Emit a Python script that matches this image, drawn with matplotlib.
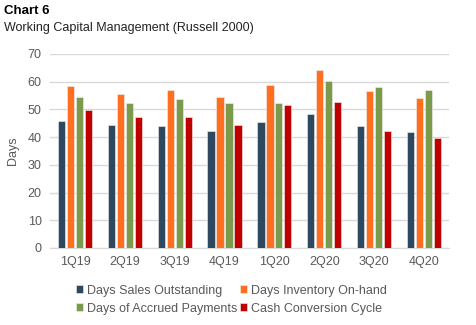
import numpy as np
import matplotlib.pyplot as plt

quarters = ['1Q19', '2Q19', '3Q19', '4Q19', '1Q20', '2Q20', '3Q20', '4Q20']
dso = [45.9, 44.5, 44.1, 42.3, 45.6, 48.4, 44.1, 42.0]
dio = [58.5, 55.7, 57.1, 54.6, 58.9, 64.3, 56.8, 54.2]
dap = [54.6, 52.4, 53.8, 52.4, 52.4, 60.3, 58.2, 57.1]
ccc = [49.9, 47.3, 47.3, 44.5, 51.7, 52.8, 42.3, 39.5]

series = [
    ('Days Sales Outstanding', dso, '#2E4860'),
    ('Days Inventory On-hand', dio, '#FF6F1F'),
    ('Days of Accrued Payments', dap, '#7B9A4B'),
    ('Cash Conversion Cycle', ccc, '#C00000'),
]

plt.rcParams['font.family'] = ['Liberation Sans', 'DejaVu Sans']
gray = '#595959'

fig = plt.figure(figsize=(4.77, 3.25), dpi=100)
ax = fig.add_axes([0.105, 0.237, 0.836, 0.597])

x = np.arange(len(quarters))
w = 0.145
pitch = 0.18
bars = []
for i, (name, vals, col) in enumerate(series):
    b = ax.bar(x + (i - 1.5) * pitch, vals, width=w, color=col, label=name,
               edgecolor='#f0f0f0', linewidth=0.4, zorder=3)
    bars.append(b)

ax.set_xlim(-0.5, len(quarters) - 0.5)
ax.set_ylim(0, 70)
ax.set_yticks(range(0, 71, 10))
ax.set_xticks(x)
ax.set_xticklabels(quarters)
ax.grid(axis='y', color='#d9d9d9', linewidth=1, zorder=0)
for s in ['top', 'right', 'left']:
    ax.spines[s].set_visible(False)
ax.spines['bottom'].set_color('#d9d9d9')
ax.tick_params(axis='both', length=0, labelsize=9, colors=gray, pad=6)
ax.set_ylabel('Days', fontsize=9, color=gray, labelpad=6)

fig.text(0.008, 0.965, 'Chart 6', fontsize=9.5, fontweight='bold', color='black', va='center')
fig.text(0.008, 0.915, 'Working Capital Management (Russell 2000)', fontsize=9, color='#222222', va='center')

# row-wise legend order
order = [0, 2, 1, 3]
leg = fig.legend([bars[i] for i in order], [series[i][0] for i in order],
                 loc='center', bbox_to_anchor=(0.485, 0.078), ncol=2, frameon=False,
                 fontsize=9, handlelength=0.6, handleheight=0.6, handletextpad=0.3,
                 columnspacing=0.2, labelspacing=0.5)
for t in leg.get_texts():
    t.set_color(gray)

fig.savefig('out.png', dpi=100)
